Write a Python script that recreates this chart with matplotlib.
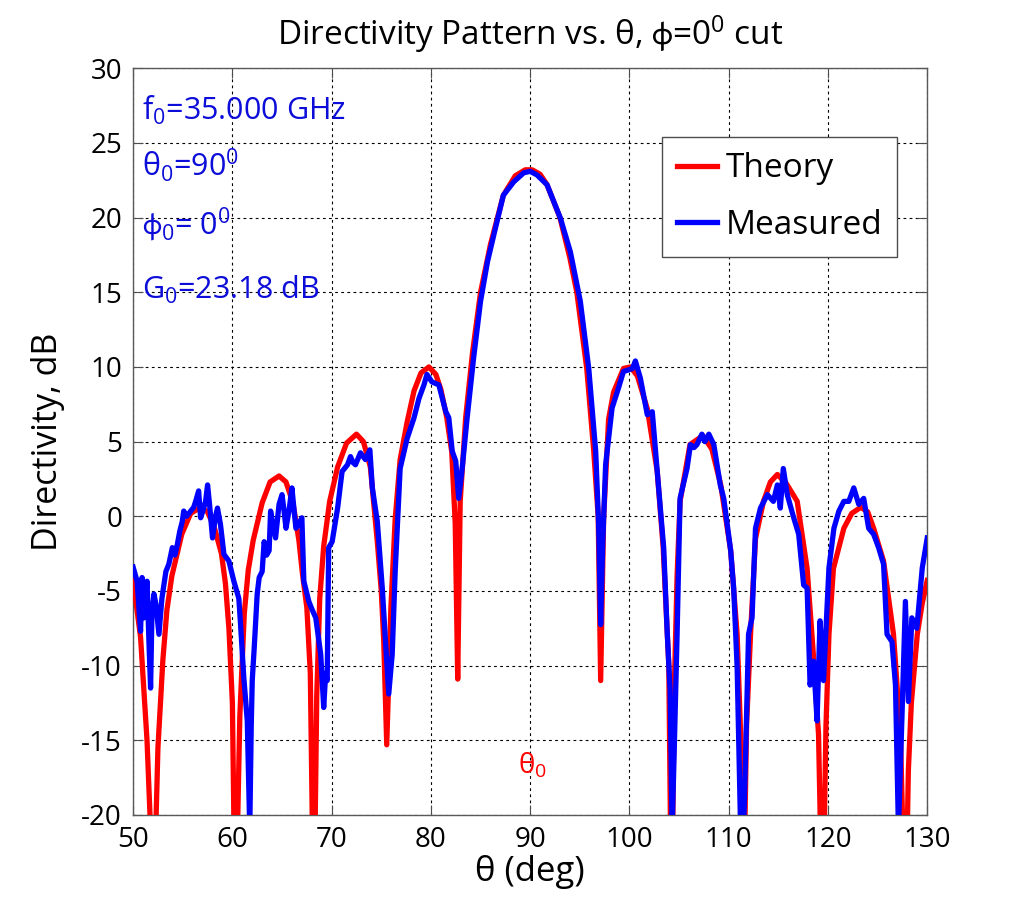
import matplotlib
matplotlib.use("Agg")
import matplotlib.pyplot as plt

plt.rcParams['font.family'] = ['Open Sans', 'DejaVu Sans']
plt.rcParams['mathtext.fontset'] = 'custom'
plt.rcParams['mathtext.rm'] = 'Open Sans'
plt.rcParams['mathtext.it'] = 'Open Sans'
plt.rcParams['mathtext.bf'] = 'Open Sans'
plt.rcParams['mathtext.fallback'] = 'stixsans'
plt.rcParams['axes.unicode_minus'] = False

# ---------------- data ----------------
theta_theory = [
    50.0, 50.75, 51.4, 51.7, 52.0,
    52.5, 53.0, 53.4, 53.9, 54.9, 55.8, 56.8, 57.5, 58.2, 58.9, 59.3, 59.65, 60.0, 60.3,
    60.75, 61.2, 61.6, 62.1, 63.0, 63.8, 64.7, 65.4, 66.1, 66.7, 67.05, 67.5, 67.85, 68.2,
    68.5, 68.8, 69.2, 69.8, 70.6, 71.5, 72.5, 73.2, 73.9, 74.6, 75.0, 75.25, 75.55,
    75.97, 76.4, 76.9, 77.6, 78.3, 79.0, 79.8, 80.5, 81.0, 81.6, 82.1, 82.45, 82.7,
    82.95, 83.5, 84.2, 85.0, 86.0, 87.3, 88.5, 89.5, 90.2, 91.0, 91.7, 93.0, 94.0, 94.7, 95.7, 96.4, 96.85, 97.1,
    97.4, 97.9, 98.4, 99.4, 100.1, 100.8, 101.8, 102.8, 103.4, 103.96, 104.25,
    104.5, 104.8, 105.1, 106.1, 107.4, 108.3, 109.2, 110.2, 110.85, 111.2, 111.45,
    111.8, 112.2, 112.7, 113.5, 114.2, 114.9, 115.8, 116.9, 117.9, 118.5, 119.05, 119.45,
    119.8, 120.1, 120.55, 121.6, 122.4, 123.3, 124.0, 124.6, 125.6, 126.6, 127.3, 127.8,
    128.1, 128.4, 129.0, 129.5, 130.0,
]
d_theory = [
    -4.3, -8.1, -15.0, -20.0, -28.0,
    -15.5, -9.6, -6.3, -4.0, -1.2, 0.2, 0.6, 0.3, -0.8, -2.5, -4.5, -7.5, -12.5, -28.0,
    -13.4, -6.5, -3.6, -1.6, 0.9, 2.3, 2.7, 2.3, 0.9, -1.6, -3.8, -6.1, -10.5, -28.0,
    -12.0, -5.5, -2.0, 1.0, 3.3, 4.9, 5.5, 5.0, 3.3, -1.7, -5.0, -8.4, -15.3,
    -6.1, -0.2, 3.8, 6.3, 8.4, 9.6, 10.0, 9.5, 8.5, 6.6, 4.3, -0.5, -10.9,
    1.0, 6.6, 11.0, 15.0, 18.2, 21.5, 22.8, 23.2, 23.2, 22.9, 22.2, 20.0, 17.3, 15.0, 9.9, 4.4, 0.0, -11.0,
    -0.1, 6.5, 8.3, 9.9, 10.0, 9.4, 7.2, 3.0, -2.1, -9.9, -28.0,
    -12.0, -4.0, 1.0, 4.8, 5.4, 4.5, 2.1, -2.3, -7.9, -14.6, -28.0,
    -14.0, -7.9, -1.5, 1.0, 2.3, 2.8, 2.2, 1.0, -3.5, -9.0, -14.6, -28.0,
    -14.0, -7.9, -3.5, -0.8, 0.2, 0.6, 0.3, -0.8, -3.0, -7.9, -14.6, -28.0,
    -17.0, -12.5, -7.9, -5.8, -4.3,
]

theta_meas = [
    50.0, 50.4, 50.75, 50.9, 51.1, 51.4, 51.6, 51.76, 51.9, 52.1, 52.3, 52.6, 52.9, 53.3, 53.6, 53.95,
    54.2, 54.45, 54.7, 54.95, 55.1, 55.4, 55.8, 56.1, 56.3, 56.6, 56.8, 57.0, 57.3, 57.5, 57.7, 58.0,
    58.3, 58.5, 58.8, 59.15, 59.65, 60.15, 60.65, 60.8, 61.15, 61.5, 61.65, 61.75, 61.9, 62.0,
    62.2, 62.5, 62.7, 63.0, 63.2, 63.45, 63.7, 63.85, 64.1, 64.35, 64.7, 65.0, 65.2, 65.4, 65.7, 66.0,
    66.2, 66.4, 66.7, 67.0, 67.2, 67.7, 68.0, 68.4, 68.9, 69.2, 69.4, 69.55, 69.7, 70.05, 70.6, 71.05,
    71.6, 71.9, 72.15, 72.4, 72.9, 73.4, 73.85, 74.1, 74.6, 75.1, 75.4, 75.75, 76.1, 76.4, 76.8, 76.9,
    77.6, 78.3, 78.8, 79.3, 79.6, 80.1, 80.8, 81.5, 81.8, 82.15, 82.5, 82.8, 83.15, 83.65, 84.3, 85.0,
    85.7, 86.5, 87.3, 88.35, 89.35, 90.0, 90.7, 91.7, 93.05, 94.05, 95.05, 95.9, 96.6, 96.9, 97.1, 97.3,
    97.6, 98.25, 98.9, 99.4, 99.9, 100.3, 100.6, 101.1, 101.8, 102.3, 102.8, 103.45, 103.8, 104.1, 104.3, 104.5,
    104.8, 105.1, 105.8, 106.15, 106.5, 106.8, 107.3, 107.6, 108.0, 108.5, 109.15, 109.5, 110.2, 110.5, 110.85, 111.2,
    111.5, 111.7, 112.0, 112.35, 112.7, 113.2, 113.9, 114.5, 114.9, 115.2, 115.5, 115.9, 116.55, 117.05, 117.55, 117.9,
    118.2, 118.55, 118.9, 119.2, 119.55, 120.1, 120.6, 121.1, 121.6, 122.1, 122.6, 123.1, 123.6, 124.1, 124.6, 125.1,
    125.6, 125.95, 126.45, 126.8, 127.1, 127.45, 127.8, 128.1, 128.45, 128.95, 129.5, 130.0,
]
d_meas = [
    -3.4, -4.35, -7.7, -4.1, -6.8, -4.35, -8.5, -11.5, -6.35, -5.2, -5.9, -7.9, -5.5, -3.7, -3.2, -2.1,
    -2.6, -1.9, -1.0, -0.35, 0.35, 0.0, 0.35, 0.6, 1.0, 1.7, -0.1, 0.3, 1.0, 2.1, 0.8, -1.45,
    0.0, 0.55, -0.55, -2.55, -3.0, -4.35, -5.5, -7.0, -10.8, -13.7, -18.0, -21.0, -14.0, -11.0,
    -8.8, -5.2, -4.1, -3.7, -1.7, -2.6, -2.3, 0.35, -0.6, -1.45, 0.8, 1.45, 0.4, -0.8, 0.35, 1.9,
    0.5, -0.8, -0.5, -0.1, -4.35, -5.7, -6.2, -6.8, -9.25, -12.8, -10.5, -11.0, -2.1, -1.7, 0.55, 3.0,
    3.45, 4.0, 3.6, 3.45, 4.25, 3.8, 4.45, 1.9, -0.35, -4.8, -8.1, -11.9, -9.25, -3.7, 1.9, 3.2,
    5.2, 6.6, 7.9, 8.8, 9.5, 9.0, 8.8, 7.0, 6.6, 4.35, 3.7, 1.2, 3.2, 6.6, 10.6, 14.4,
    17.05, 19.3, 21.5, 22.4, 23.0, 23.1, 22.85, 22.2, 19.95, 17.7, 14.4, 9.9, 4.35, -0.55, -7.25, -2.0,
    3.45, 7.25, 8.6, 9.7, 9.8, 9.9, 10.4, 9.25, 6.8, 7.0, 3.0, -2.1, -7.7, -11.7, -21.0, -16.0,
    -7.9, 1.2, 3.2, 4.8, 4.6, 4.8, 5.5, 5.0, 5.5, 4.8, 2.1, 1.2, -2.3, -4.8, -10.1, -21.0,
    -21.0, -16.0, -7.9, -6.8, -0.8, 0.55, 1.45, 1.0, 2.1, 0.55, 3.2, 1.45, -0.1, -1.2, -4.6, -4.8,
    -11.3, -9.7, -13.7, -7.0, -11.0, -3.45, -0.8, 0.35, 1.0, 1.0, 1.9, 0.8, 1.2, -0.8, -1.2, -2.1,
    -3.2, -7.9, -8.4, -11.3, -21.0, -13.5, -5.7, -12.4, -6.8, -7.5, -3.45, -1.45,
]

x_ticks = [50, 60, 70, 80, 90, 100, 110, 120, 130]
y_ticks = [-20, -15, -10, -5, 0, 5, 10, 15, 20, 25, 30]
series_labels = ["Theory", "Measured"]
info_lines = ["f$_0$=35.000 GHz", "\u03b8$_0$=90$^0$", "$\\mathrm{\u03d5}_0$= 0$^0$", "G$_0$=23.18 dB"]
info_y = [26.55, 22.74, 18.86, 14.58]
theta0 = 90

# ---------------- figure ----------------
fig = plt.figure(figsize=(10.24, 9.15), dpi=100)
ax = fig.add_axes([0.130, 0.1093, 0.7755, 0.8161])

ax.plot(theta_theory, d_theory, color=(1, 0, 0), lw=3.8, label=series_labels[0], zorder=3)
ax.plot(theta_meas, d_meas, color=(0, 0, 1), lw=3.8, label=series_labels[1], zorder=4)

ax.set_xlim(50, 130)
ax.set_ylim(-20, 30)
ax.set_xticks(x_ticks)
ax.set_yticks(y_ticks)
ax.tick_params(direction='in', top=True, right=True, length=7, width=0.8,
               labelsize=20, pad=8, color='0.3')
for s in ax.spines.values():
    s.set_color('0.35')
    s.set_linewidth(1.0)
ax.grid(True, color='black', linestyle=(0, (2.5, 3)), linewidth=0.8)

ax.set_title('Directivity Pattern vs. \u03b8, $\\mathrm{\u03d5}$=0$^0$ cut', fontsize=24, pad=17)
ax.set_xlabel('\u03b8 (deg)', fontsize=25, labelpad=1)
ax.set_ylabel('Directivity, dB', fontsize=24.5, labelpad=12)

for txt, yy in zip(info_lines, info_y):
    ax.text(50.9, yy, txt, color=(0.05, 0.05, 0.85), fontsize=22, va='baseline', ha='left')

ax.text(theta0 - 1.2, -17.2, '\u03b8$_0$', color='red', fontsize=20, va='baseline', ha='left')

leg = ax.legend(loc='upper right', bbox_to_anchor=(0.962, 0.9076), borderaxespad=0,
                fontsize=24, fancybox=False, framealpha=1, edgecolor='0.3',
                handlelength=1.2, handletextpad=0.25, labelspacing=0.7, borderpad=0.45)
leg.get_frame().set_linewidth(1.0)

fig.savefig('out.png', dpi=100, facecolor='white')
